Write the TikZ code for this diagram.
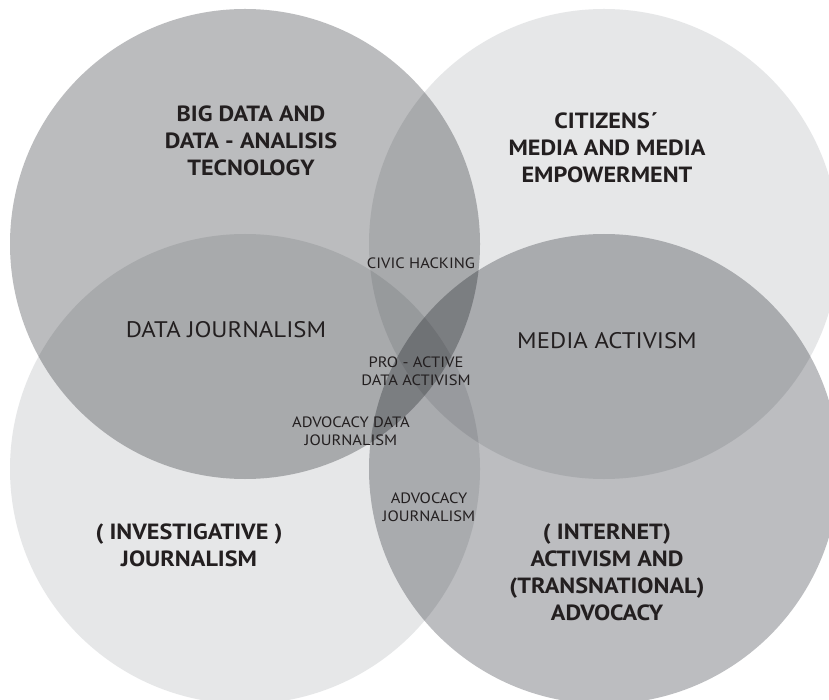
\documentclass[tikz,border=0pt]{standalone}
\usepackage{fontspec}
\setmainfont{PT Sans}[FakeStretch=1.1]
\begin{document}
\begin{tikzpicture}[x=1pt,y=-1pt,
  bigtitle/.style={align=center,font=\fontsize{22}{27}\selectfont\bfseries,text=ink,inner sep=0pt},
  midtitle/.style={align=center,font=\fontsize{22.5}{27}\selectfont,text=ink,inner sep=0pt},
  smalltitle/.style={align=center,font=\fontsize{15}{18.5}\selectfont,text=ink,inner sep=0pt},
  ring/.style={draw=none}]
\definecolor{ink}{HTML}{231F20}
\definecolor{greyA}{HTML}{BBBCBE}
\definecolor{greyB}{HTML}{E6E7E8}
\definecolor{greyC}{HTML}{E6E7E8}
\definecolor{greyD}{HTML}{BCBDC0}
\useasboundingbox (0,0) rectangle (829,700);
\clip (0,0) rectangle (829,700);
\fill[white] (0,0) rectangle (829,700);
% four overlapping discs, darkened where they overlap
\begin{scope}[blend mode=multiply]
  \fill[greyA] (245,244) circle[radius=235];
  \fill[greyB] (604,244) circle[radius=235];
  \fill[greyC] (245,469) circle[radius=235];
  \fill[greyD] (604,469) circle[radius=235];
\end{scope}
% main headings
\node[bigtitle] (bigdata) at (251,141) {BIG DATA AND\\DATA - ANALISIS\\TECNOLOGY};
\node[bigtitle] (citizens) at (607,148) {CITIZENS\,\'{}\\MEDIA AND MEDIA\\EMPOWERMENT};
\node[bigtitle] (invest) at (189,545) {( INVESTIGATIVE )\\JOURNALISM};
\node[bigtitle] (internet) at (607,572) {( INTERNET)\\ACTIVISM AND\\(TRANSNATIONAL)\\ADVOCACY};
% overlap labels
\node[midtitle] (datajour) at (226,330) {DATA JOURNALISM};
\node[midtitle] (mediaact) at (607,341) {MEDIA ACTIVISM};
\node[smalltitle] (civic) at (421,263) {CIVIC HACKING};
\node[smalltitle] (proactive) at (416,371) {PRO - ACTIVE\\DATA ACTIVISM};
\node[smalltitle] (advdata) at (351,431) {ADVOCACY DATA\\JOURNALISM};
\node[smalltitle] (advjour) at (429,507) {ADVOCACY\\JOURNALISM};
\end{tikzpicture}
\end{document}
